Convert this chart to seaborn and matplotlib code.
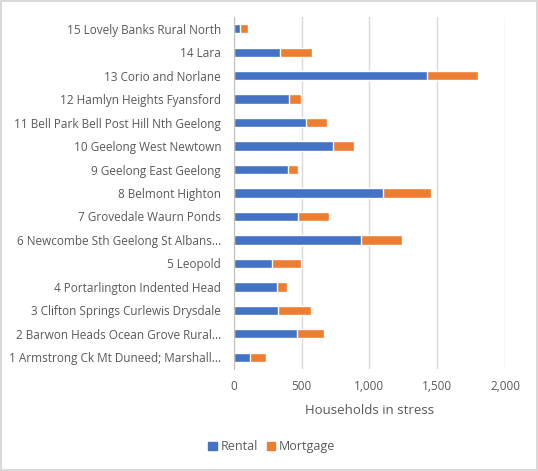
import matplotlib
matplotlib.use("Agg")
import matplotlib.pyplot as plt
from matplotlib.patches import Patch
import seaborn as sns
import pandas as pd

# regions, top to bottom as shown
regions = [
    "15 Lovely Banks Rural North",
    "14 Lara",
    "13 Corio and Norlane",
    "12 Hamlyn Heights Fyansford",
    "11 Bell Park Bell Post Hill Nth Geelong",
    "10 Geelong West Newtown",
    "9 Geelong East Geelong",
    "8 Belmont Highton",
    "7 Grovedale Waurn Ponds",
    "6 Newcombe Sth Geelong St Albans...",
    "5 Leopold",
    "4 Portarlington Indented Head",
    "3 Clifton Springs Curlewis Drysdale",
    "2 Barwon Heads Ocean Grove Rural...",
    "1 Armstrong Ck Mt Duneed; Marshall...",
]
rental = [47, 341, 1425, 410, 536, 730, 400, 1101, 474, 941, 283, 319, 327, 467, 120]
mortgage = [56, 236, 374, 86, 152, 155, 74, 351, 229, 300, 211, 74, 245, 201, 116]

df = pd.DataFrame({"region": regions, "Rental": rental, "Mortgage": mortgage})
df["total"] = df["Rental"] + df["Mortgage"]

blue = "#4472C4"
orange = "#ED7D31"
grey = "#595959"

sns.set_style("white")
plt.rcParams["font.family"] = ["Open Sans", "DejaVu Sans"]

fig = plt.figure(figsize=(5.38, 4.71), dpi=100, edgecolor="#d9d9d9", linewidth=1.5)
ax = fig.add_axes([0.4344, 0.2166, 0.5043, 0.7473])

# stacked: total in orange, rental drawn over it in blue
sns.barplot(data=df, x="total", y="region", color=orange, width=0.4,
            saturation=1, ax=ax, legend=False)
sns.barplot(data=df, x="Rental", y="region", color=blue, width=0.4,
            saturation=1, ax=ax, legend=False)

ax.set_xlim(0, 2000)
ax.set_xticks([0, 500, 1000, 1500, 2000])
ax.set_xticklabels(["0", "500", "1,000", "1,500", "2,000"])
ax.grid(axis="x", color="#d9d9d9", linewidth=1)
ax.set_axisbelow(True)
for s in ["top", "right", "bottom"]:
    ax.spines[s].set_visible(False)
ax.spines["left"].set_color("#bfbfbf")
ax.tick_params(axis="both", length=0, colors=grey, labelsize=8.5)
ax.tick_params(axis="y", pad=9)
ax.tick_params(axis="x", pad=8)
ax.set_ylabel("")
ax.set_xlabel("Households in stress", color=grey, fontsize=9.5, labelpad=8)

handles = [Patch(color=blue), Patch(color=orange)]
fig.legend(handles, ["Rental", "Mortgage"],
           loc="center", bbox_to_anchor=(0.505, 0.051), ncol=2, frameon=False,
           fontsize=9, labelcolor=grey, handlelength=0.7, handleheight=0.7,
           handletextpad=0.3, columnspacing=0.7)

fig.savefig("out.png", dpi=100)
